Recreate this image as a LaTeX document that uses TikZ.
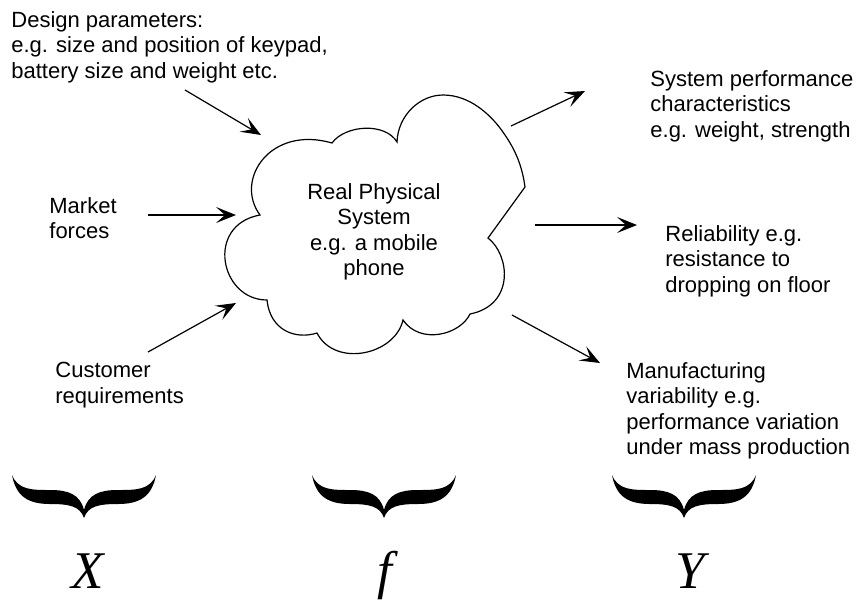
\documentclass[tikz,border=0pt]{standalone}
\usepackage{fontspec}
\setmainfont{Liberation Sans}
\newfontfamily\timesit{Liberation Serif}
\usetikzlibrary{arrows.meta}
\newcommand{\lbl}{\fontsize{11}{12.7}\selectfont}
\newcommand{\var}{\fontsize{26.5}{30}\selectfont\timesit\itshape}
% curly brace opening upwards, centred at x = #1
\newcommand{\curlybrace}[1]{%
  \fill ({#1-72},475) .. controls ({#1-68},497) and ({#1-55},504) .. ({#1-34},504)
        .. controls ({#1-15},504) and ({#1-4},506) .. (#1,518)
        .. controls ({#1+4},506) and ({#1+15},504) .. ({#1+34},504)
        .. controls ({#1+55},504) and ({#1+68},497) .. ({#1+72},475)
        .. controls ({#1+66},490) and ({#1+52},490) .. ({#1+34},490)
        .. controls ({#1+16},490) and ({#1+4},494) .. (#1,510)
        .. controls ({#1-4},494) and ({#1-16},490) .. ({#1-34},490)
        .. controls ({#1-52},490) and ({#1-66},490) .. cycle;}

\tikzset{
  txt/.style={anchor=north west, inner sep=0pt, align=left, font=\lbl},
  arr/.style={-{Stealth[length=10pt,width=8pt,inset=4.5pt]}, line width=0.6pt}
}

\begin{document}
\begin{tikzpicture}[x=0.5pt,y=-0.5pt]
          \useasboundingbox (0,0) rectangle (856,601);

          % the system
          \draw[line width=0.6pt] (260,215)
            .. controls (234,180) and (270,125) .. (332,143)
            .. controls (345,125) and (385,122) .. (397,142)
            .. controls (398,115) and (420,95) .. (443,95)
            .. controls (470,95) and (490,115) .. (500,128)
            .. controls (515,148) and (522,165) .. (525,187)
            -- (488,238)
            .. controls (510,255) and (515,305) .. (470,314)
            .. controls (460,335) and (420,345) .. (403,320)
            .. controls (395,355) and (335,368) .. (317,333)
            .. controls (295,340) and (270,330) .. (267,300)
            .. controls (220,300) and (205,225) .. cycle;
          \node (Phys) at (374,183) [anchor=north, inner sep=0pt, align=center, font=\lbl]
            {Real Physical\\System\\e.g. a mobile\\phone};

          % inputs
          \node (Des) at (11,11) [txt] {Design parameters:\\e.g. size and position of keypad,\\battery size and weight etc.};
          \node (Mkt) at (49,197) [txt] {Market\\forces};
          \node (Cust) at (55,362) [txt] {Customer\\requirements};

          % outputs
          \node (Perf) at (650,70) [txt] {System performance\\characteristics\\e.g. weight, strength};
          \node (Rel) at (665,225) [txt] {Reliability e.g.\\resistance to\\dropping on floor};
          \node (Manu) at (626,362) [txt] {Manufacturing\\variability e.g.\\performance variation\\under mass production};

          \coordinate (Des1) at (185,90);  \coordinate (Des2) at (261,135);
          \coordinate (Mkt1) at (148,215); \coordinate (Mkt2) at (236,215);
          \coordinate (Cust1) at (148,352); \coordinate (Cust2) at (236,303);
          \coordinate (Perf1) at (511,126); \coordinate (Perf2) at (585,91);
          \coordinate (Rel1) at (535,225); \coordinate (Rel2) at (637,225);
          \coordinate (Manu1) at (512,315); \coordinate (Manu2) at (600,363);

          \draw[arr] (Des1)--(Des2);
          \draw[arr] (Mkt1)--(Mkt2);
          \draw[arr] (Cust1)--(Cust2);
          \draw[arr] (Perf1)--(Perf2);
          \draw[arr] (Rel1)--(Rel2);
          \draw[arr] (Manu1)--(Manu2);

          % X, f and Y
          \curlybrace{84}
          \curlybrace{384}
          \curlybrace{684}
          \node (X) at (88,588) [anchor=base, inner sep=0pt, font=\var] {X};
          \node (F) at (385,588) [anchor=base, inner sep=0pt, font=\var] {f};
          \node (Y) at (690,588) [anchor=base, inner sep=0pt, font=\var] {Y};

        \end{tikzpicture}
\end{document}
